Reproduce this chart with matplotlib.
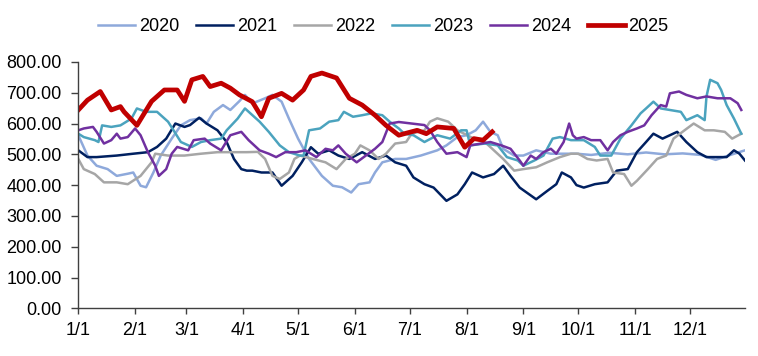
import matplotlib
matplotlib.use("Agg")
from matplotlib import pyplot as plt
from matplotlib.ticker import FormatStrFormatter

plt.rcParams['font.family'] = ['Liberation Sans', 'DejaVu Sans']

# day of year (0 = 1/1) and value
d2020 = [0, 5, 10, 16, 21, 27, 30, 34, 37, 41, 45, 51, 56, 61, 67, 70, 74, 79, 83, 88, 91, 95,
         102, 106, 111, 115, 120, 126, 133, 139, 144, 149, 153, 159, 162, 166, 173, 179, 187,
         196, 201, 207, 212, 217, 221, 225, 229, 232, 238, 243, 250, 258, 265, 272, 280, 290,
         300, 310, 320, 330, 340, 348, 355, 364]
v2020 = [562, 496, 463, 452, 430, 437, 441, 398, 393, 441, 496, 551, 594, 611, 617, 600, 638,
         660, 644, 673, 693, 665, 682, 693, 671, 616, 551, 485, 430, 398, 393, 376, 403, 409,
         441, 474, 485, 485, 496, 513, 529, 556, 562, 578, 606, 573, 562, 518, 496, 496, 513,
         502, 502, 502, 498, 505, 500, 506, 500, 503, 498, 482, 496, 513]

d2021 = [0, 5, 10, 21, 30, 38, 43, 48, 53, 58, 61, 66, 70, 76, 81, 85, 89, 92, 95, 100, 106,
         111, 117, 122, 127, 131, 137, 142, 148, 155, 162, 168, 173, 179, 183, 189, 194, 201,
         207, 211, 215, 221, 227, 232, 236, 241, 250, 256, 261, 264, 269, 272, 276, 282, 289,
         294, 300, 305, 310, 314, 319, 323, 327, 332, 338, 343, 349, 354, 358, 361, 364]
v2021 = [513, 491, 491, 496, 502, 507, 524, 551, 600, 589, 595, 619, 600, 578, 540, 485, 452,
         447, 447, 441, 441, 398, 430, 474, 523, 502, 513, 496, 485, 507, 485, 496, 474, 463,
         425, 403, 392, 349, 370, 403, 441, 425, 436, 463, 430, 392, 354, 381, 403, 441, 425,
         400, 392, 403, 409, 447, 452, 507, 540, 567, 551, 562, 573, 540, 507, 491, 491, 491,
         513, 502, 480]

d2022 = [0, 3, 9, 14, 21, 27, 34, 40, 42, 49, 58, 67, 76, 85, 92, 98, 102, 106, 110, 115, 118,
         121, 128, 135, 141, 146, 151, 154, 159, 164, 168, 173, 179, 182, 189, 192, 196, 202,
         207, 216, 222, 228, 232, 238, 243, 250, 256, 263, 269, 273, 278, 283, 289, 292, 298,
         302, 305, 311, 316, 321, 325, 331, 336, 342, 347, 353, 357, 362]
v2022 = [485, 452, 436, 409, 409, 403, 430, 474, 502, 496, 496, 502, 507, 507, 507, 508, 485,
         430, 420, 441, 485, 496, 485, 474, 452, 485, 502, 529, 513, 485, 502, 535, 540, 567,
         578, 606, 617, 606, 578, 551, 540, 507, 485, 447, 452, 458, 474, 491, 502, 502, 485,
         480, 485, 441, 436, 398, 414, 452, 485, 496, 551, 578, 600, 578, 578, 573, 551, 567]

d2023 = [0, 3, 9, 11, 13, 18, 23, 29, 32, 37, 43, 49, 52, 56, 62, 67, 72, 78, 81, 87, 91, 99,
         104, 110, 115, 121, 123, 126, 132, 137, 142, 145, 150, 155, 160, 166, 170, 175, 178,
         183, 189, 196, 203, 209, 212, 214, 222, 229, 234, 240, 243, 249, 254, 259, 263, 269,
         272, 276, 282, 285, 291, 296, 302, 307, 310, 314, 318, 323, 329, 332, 338, 342, 343,
         345, 349, 351, 354, 358, 362]
v2023 = [567, 556, 546, 540, 594, 589, 594, 616, 649, 638, 638, 606, 578, 540, 524, 540, 546,
         551, 578, 616, 649, 606, 573, 529, 507, 496, 496, 578, 584, 606, 611, 638, 622, 627,
         633, 627, 606, 584, 567, 562, 540, 562, 551, 578, 578, 529, 535, 529, 491, 480, 463,
         480, 496, 551, 556, 546, 546, 546, 524, 496, 496, 551, 594, 633, 649, 671, 649, 644,
         638, 611, 627, 611, 688, 742, 731, 709, 660, 616, 567]

d2024 = [0, 3, 8, 10, 14, 18, 21, 23, 27, 31, 34, 38, 42, 44, 48, 51, 54, 60, 63, 69, 72, 78,
         83, 89, 93, 99, 104, 108, 113, 119, 124, 130, 135, 139, 142, 146, 152, 157, 162, 166,
         170, 175, 182, 189, 192, 196, 201, 207, 212, 214, 220, 225, 231, 236, 241, 243, 247,
         250, 254, 258, 261, 265, 268, 270, 272, 276, 280, 285, 289, 292, 296, 300, 305, 309,
         313, 318, 321, 323, 328, 332, 338, 343, 349, 356, 360, 362]
v2024 = [578, 584, 589, 573, 535, 546, 567, 551, 556, 584, 562, 507, 463, 430, 452, 502, 524,
         513, 546, 551, 535, 513, 562, 573, 546, 513, 502, 491, 507, 507, 513, 491, 518, 513,
         529, 502, 474, 496, 518, 540, 600, 605, 600, 595, 578, 540, 502, 507, 491, 529, 535,
         540, 529, 518, 480, 463, 496, 485, 507, 518, 502, 540, 600, 562, 551, 556, 546, 546,
         513, 540, 562, 573, 584, 594, 627, 660, 655, 698, 704, 693, 682, 688, 682, 682, 666,
         644]

d2025 = [0, 5, 12, 18, 23, 25, 32, 40, 47, 54, 58, 62, 68, 72, 78, 83, 88, 95, 100, 104, 111,
         117, 123, 127, 133, 141, 148, 155, 162, 168, 175, 178, 185, 190, 196, 205, 211, 216,
         221, 226]
v2025 = [644, 676, 704, 644, 655, 638, 594, 672, 709, 709, 672, 742, 753, 720, 731, 715, 693,
         671, 622, 682, 698, 676, 709, 753, 764, 748, 682, 660, 627, 594, 562, 567, 578, 567,
         589, 584, 523, 551, 546, 573]

month_days = [0, 31, 59, 90, 120, 151, 181, 212, 243, 273, 304, 334]
month_labels = ['1/1', '2/1', '3/1', '4/1', '5/1', '6/1', '7/1', '8/1', '9/1', '10/1', '11/1', '12/1']

fig = plt.figure(figsize=(7.58, 3.56), dpi=100)
ax = fig.add_axes([0.1033, 0.134, 0.8795, 0.692])

ax.plot(d2020, v2020, color='#8EA9DB', lw=1.8, label='2020')
ax.plot(d2021, v2021, color='#002060', lw=1.8, label='2021')
ax.plot(d2022, v2022, color='#A6A6A6', lw=1.8, label='2022')
ax.plot(d2023, v2023, color='#4BA3BE', lw=1.8, label='2023')
ax.plot(d2024, v2024, color='#7030A0', lw=1.8, label='2024')
ax.plot(d2025, v2025, color='#C00000', lw=3.4, label='2025')

ax.set_xlim(0, 364)
ax.set_ylim(0, 800)
ax.set_yticks(range(0, 801, 100))
ax.yaxis.set_major_formatter(FormatStrFormatter('%.2f'))
ax.set_xticks(month_days)
ax.set_xticklabels(month_labels)

for s in ['top', 'right']:
    ax.spines[s].set_visible(False)
for s in ['left', 'bottom']:
    ax.spines[s].set_color('#404040')
    ax.spines[s].set_linewidth(1.0)
ax.tick_params(axis='y', length=5, width=1, color='#404040', labelsize=13, pad=7)
ax.tick_params(axis='x', length=4, width=1, color='#404040', labelsize=13, pad=6)

fig.legend(loc='center', bbox_to_anchor=(0.506, 0.925), ncol=6, frameon=False,
           fontsize=13, handlelength=2.05, handletextpad=0.2, columnspacing=0.95)

fig.savefig('out.png', dpi=100)
